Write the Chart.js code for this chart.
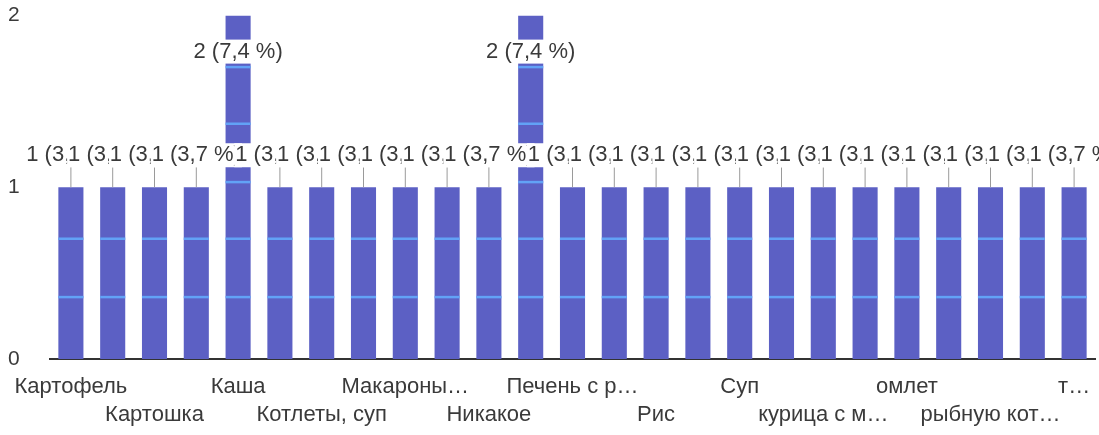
<!DOCTYPE html>
<html>
<head>
<meta charset="utf-8">
<script src="https://cdn.jsdelivr.net/npm/chart.js@4/dist/chart.umd.min.js"></script>
<style>
  html, body { margin: 0; padding: 0; background: #fff; }
  #wrap { width: 1099px; height: 435px; }
</style>
</head>
<body>
<div id="wrap"><canvas id="dishChart"></canvas></div>
<script>
// categories (only every other label is readable in the picture)
const dishes = [
    'Картофель', '', 'Картошка', '', 'Каша', '', 'Котлеты, суп', '', 'Макароны…', '',
    'Никакое', '', 'Печень с р…', '', 'Рис', '', 'Суп', '', 'курица с м…', '',
    'омлет', '', 'рыбную кот…', '', 'т…'
];
const counts = [1, 1, 1, 1, 2, 1, 1, 1, 1, 1, 1, 2, 1, 1, 1, 1, 1, 1, 1, 1, 1, 1, 1, 1, 1];
const yTicks = [0, 1, 2];
const stripeLevels = [0.36, 0.7, 1.03, 1.37, 1.7];

const total = counts.reduce((s, v) => s + v, 0);
const textColor = '#3a3a3a';
const fontFamily = '"Liberation Sans", Arial, sans-serif';

// light stripes that show through the bars
const barStripes = {
    id: 'barStripes',
    afterDatasetsDraw(chart) {
        const ctx = chart.ctx;
        const y = chart.scales.y;
        chart.getDatasetMeta(0).data.forEach(bar => {
            const half = bar.width / 2;
            ctx.save();
            ctx.strokeStyle = '#62a2f6';
            ctx.lineWidth = 2.5;
            stripeLevels.forEach(lv => {
                const py = y.getPixelForValue(lv);
                if (py <= bar.y + 2) return;
                ctx.beginPath();
                ctx.moveTo(bar.x - half, py);
                ctx.lineTo(bar.x + half, py);
                ctx.stroke();
            });
            ctx.restore();
        });
    }
};

// "1 (3,7 %)" labels with leader lines, each one drawn over the previous
const valueLabels = {
    id: 'valueLabels',
    afterDatasetsDraw(chart) {
        const ctx = chart.ctx;
        const area = chart.chartArea;
        const bars = chart.getDatasetMeta(0).data;
        ctx.save();
        ctx.font = '22px ' + fontFamily;
        ctx.textAlign = 'center';
        ctx.textBaseline = 'middle';
        const spots = bars.map(bar => Math.max(bar.y - 32, area.top + 36));
        // leader lines
        ctx.strokeStyle = '#9a9a9a';
        ctx.lineWidth = 1;
        bars.forEach((bar, i) => {
            if (bar.y - spots[i] < 15) return;
            ctx.beginPath();
            ctx.moveTo(bar.x, spots[i] + 11);
            ctx.lineTo(bar.x, bar.y);
            ctx.stroke();
        });
        bars.forEach((bar, i) => {
            const pct = (counts[i] / total * 100).toFixed(1).replace('.', ',');
            const txt = counts[i] + ' (' + pct + ' %)';
            const w = ctx.measureText(txt).width;
            ctx.fillStyle = '#fff';
            ctx.fillRect(bar.x - w / 2 - 1, spots[i] - 12, w + 2, 24);
            ctx.fillStyle = textColor;
            ctx.fillText(txt, bar.x, spots[i]);
        });
        ctx.restore();
    }
};

new Chart(document.getElementById('dishChart'), {
    type: 'bar',
    data: {
        labels: dishes.map((d, i) => (i / 2) % 2 === 1 ? ['', d] : d),
        datasets: [{
            data: counts,
            backgroundColor: '#5c60c4',
            barPercentage: 0.6,
            categoryPercentage: 1
        }]
    },
    options: {
        responsive: true,
        maintainAspectRatio: false,
        animation: false,
        layout: { padding: { left: 8, right: 4, top: 12, bottom: 0 } },
        plugins: { legend: { display: false }, tooltip: { enabled: false } },
        scales: {
            x: {
                grid: { display: false },
                border: { display: true, color: '#333', width: 2 },
                ticks: {
                    autoSkip: false, maxRotation: 0, minRotation: 0,
                    color: textColor, padding: 7,
                    font: { size: 22, family: fontFamily, lineHeight: 1.23 }
                }
            },
            y: {
                min: 0, max: 2,
                afterBuildTicks: s => { s.ticks = yTicks.map(v => ({ value: v })); },
                afterFit: s => { s.width = 42; },
                grid: { display: false },
                border: { display: false },
                ticks: {
                    crossAlign: 'far', color: textColor,
                    font: { size: 21, family: fontFamily }
                }
            }
        }
    },
    plugins: [barStripes, valueLabels]
});
</script>
</body>
</html>
